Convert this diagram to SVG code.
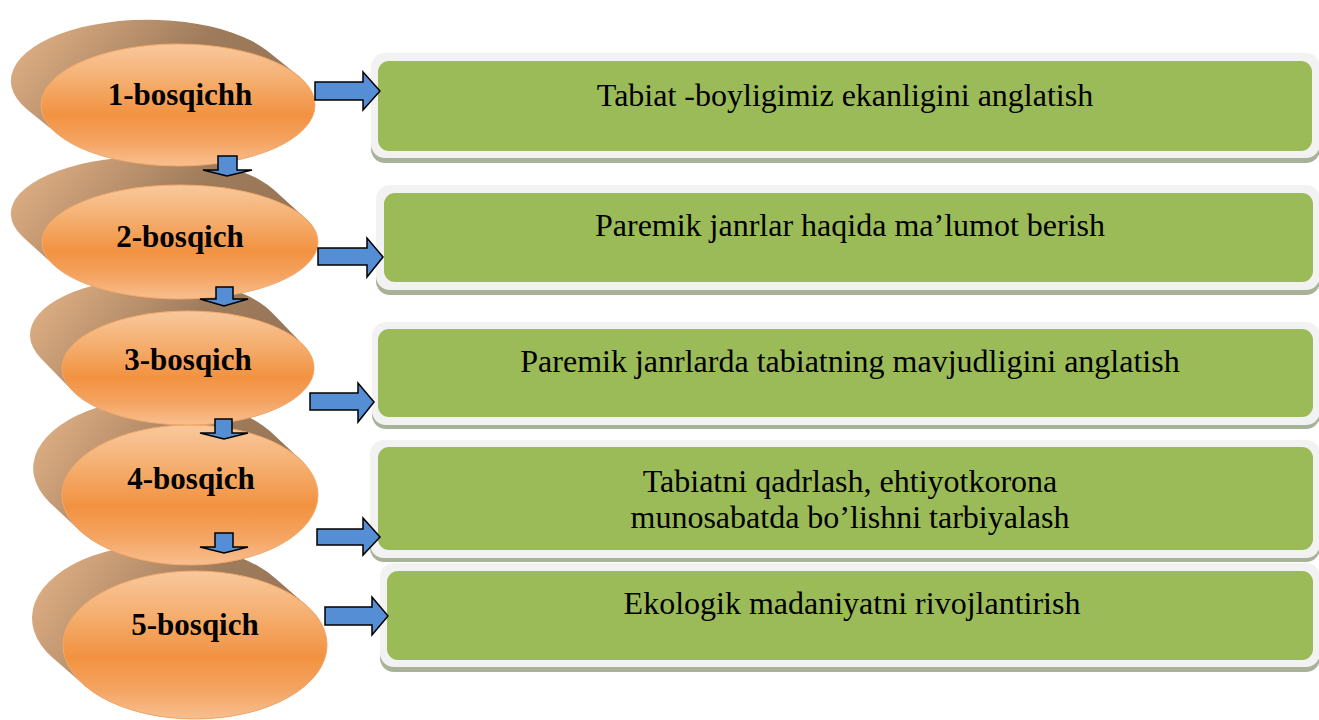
<svg xmlns="http://www.w3.org/2000/svg" width="1319" height="720" viewBox="0 0 1319 720">
<defs>
<linearGradient id="brown" x1="0" y1="0.3" x2="1" y2="0.7">
<stop offset="0" stop-color="#DBAC82"/>
<stop offset="0.5" stop-color="#9E7B5B"/>
<stop offset="0.78" stop-color="#987657"/>
<stop offset="1" stop-color="#B58F6C"/>
</linearGradient>
<linearGradient id="orange" x1="0" y1="0" x2="0" y2="1">
<stop offset="0" stop-color="#F9C89C"/>
<stop offset="0.3" stop-color="#F5AE6E"/>
<stop offset="0.58" stop-color="#F29241"/>
<stop offset="0.8" stop-color="#F4A462"/>
<stop offset="1" stop-color="#F8BF90"/>
</linearGradient>
<style>
.band{fill:url(#brown);}
.front{fill:url(#orange);stroke:#F3A867;stroke-width:1;}
.ntext{font-family:"Liberation Serif","Times New Roman",serif;font-weight:bold;font-size:31px;fill:#000;text-anchor:middle;}
.frame{fill:#F2F2F2;}
.shadow{fill:#A7B298;}
.inner{fill:#9BBB59;}
.btext{font-family:"Liberation Serif","Times New Roman",serif;font-size:32px;fill:#000;text-anchor:middle;}
.arrow{fill:#558ED5;stroke:#000;stroke-width:1.5;stroke-linejoin:miter;}
</style>
</defs>

<!-- boxes -->
<g id="box1">
<rect class="shadow" x="371" y="58" width="949" height="105" rx="14"/>
<rect class="frame" x="371" y="53" width="949" height="105" rx="14"/>
<rect class="inner" x="378" y="61" width="934" height="90" rx="11"/>
<text class="btext" x="845" y="106">Tabiat -boyligimiz ekanligini anglatish</text>
</g>
<g id="box2">
<rect class="shadow" x="376" y="190" width="944" height="105" rx="14"/>
<rect class="frame" x="376" y="185" width="944" height="105" rx="14"/>
<rect class="inner" x="384" y="193" width="929" height="89" rx="11"/>
<text class="btext" x="850" y="236">Paremik janrlar haqida ma’lumot berish</text>
</g>
<g id="box3">
<rect class="shadow" x="372" y="326" width="948" height="103" rx="14"/>
<rect class="frame" x="372" y="322" width="948" height="103" rx="14"/>
<rect class="inner" x="378" y="329" width="935" height="88" rx="11"/>
<text class="btext" x="850" y="372">Paremik janrlarda tabiatning mavjudligini anglatish</text>
</g>
<g id="box4">
<rect class="shadow" x="370" y="444" width="950" height="118" rx="14"/>
<rect class="frame" x="370" y="440" width="950" height="118" rx="14"/>
<rect class="inner" x="378" y="447" width="935" height="103" rx="11"/>
<text class="btext" x="850" y="492">Tabiatni qadrlash, ehtiyotkorona</text>
<text class="btext" x="850" y="528">munosabatda bo’lishni tarbiyalash</text>
</g>
<g id="box5">
<rect class="shadow" x="380" y="568" width="940" height="104" rx="14"/>
<rect class="frame" x="380" y="563" width="940" height="104" rx="14"/>
<rect class="inner" x="387" y="571" width="926" height="89" rx="11"/>
<text class="btext" x="852" y="614">Ekologik madaniyatni rivojlantirish</text>
</g>

<!-- discs (drawn bottom-up) -->
<g id="node5">
<path class="band" d="M275,577.9 A132,74 0 0 0 53,658.1 L84,685.1 A132,74 0 0 0 306,604.9 Z"/>
<ellipse class="front" cx="195" cy="645" rx="132" ry="74"/>
<text class="ntext" x="195" y="635">5-bosqich</text>
</g>
<g id="node4">
<path class="band" d="M270.4,431.6 A128,70 0 0 0 49.6,502.4 L79.6,530.4 A128,70 0 0 0 300.4,459.6 Z"/>
<ellipse class="front" cx="190" cy="495" rx="128" ry="70"/>
<text class="ntext" x="191" y="489">4-bosqich</text>
</g>
<g id="node3">
<path class="band" d="M271.4,312.1 A126,57 0 0 0 40.6,357.9 L72.6,390.9 A126,57 0 0 0 303.4,345.1 Z"/>
<ellipse class="front" cx="188" cy="368" rx="126" ry="57"/>
<text class="ntext" x="188" y="370">3-bosqich</text>
</g>
<g id="node2">
<path class="band" d="M273.6,189.4 A138,57 0 0 0 22.4,236.6 L54.4,265.6 A138,57 0 0 0 305.6,218.4 Z"/>
<ellipse class="front" cx="180" cy="242" rx="138" ry="57"/>
<text class="ntext" x="180" y="247">2-bosqich</text>
</g>
<g id="node1">
<path class="band" d="M266.9,50.5 A137,61 0 0 0 27.1,109.5 L58.1,134.5 A137,61 0 0 0 297.9,75.5 Z"/>
<ellipse class="front" cx="178" cy="105" rx="137" ry="61"/>
<text class="ntext" x="180" y="105">1-bosqichh</text>
</g>

<!-- connectors -->
<g id="connectors">
<path class="arrow" d="M218,156 H237 V170 H252 L227,176 L203,170 H218 Z"/>
<path class="arrow" d="M216,287 H233 V299 H248 L224,306 L200,299 H216 Z"/>
<path class="arrow" d="M215,419 H232 V433 H248 L224,439 L200,433 H215 Z"/>
<path class="arrow" d="M215,533 H233 V547 H248 L224,553 L200,547 H215 Z"/>
<path class="arrow" d="M315,82 H363 V72 L380,91 L363,110 V100 H315 Z"/>
<path class="arrow" d="M318,248 H367 V238 L383,257 L367,277 V265 H318 Z"/>
<path class="arrow" d="M310,393 H358 V383 L374,402 L358,422 V410 H310 Z"/>
<path class="arrow" d="M317,529 H363 V518 L380,537 L363,555 V545 H317 Z"/>
<path class="arrow" d="M325,607 H372 V597 L388,616 L372,635 V625 H325 Z"/>
</g>
</svg>
